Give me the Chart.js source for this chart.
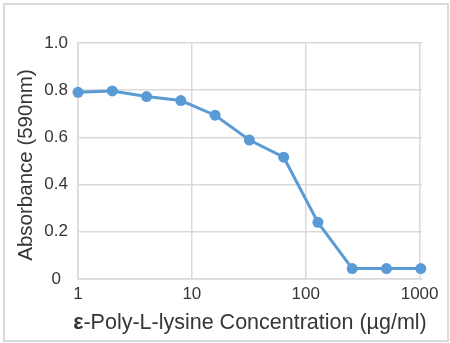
<!DOCTYPE html>
<html>
<head>
<meta charset="utf-8">
<script src="https://cdn.jsdelivr.net/npm/chart.js@4"></script>
<style>
  html, body { margin: 0; padding: 0; background: #ffffff; }
  #wrap { position: relative; width: 450px; height: 343px; }
  #frame {
    position: absolute; left: 3px; top: 3px; width: 442px; height: 335px;
    border: 2px solid #dadada; pointer-events: none;
  }
  canvas { position: absolute; left: 0; top: 0; }
</style>
</head>
<body>
<div id="wrap">
  <canvas id="chart" width="450" height="343"></canvas>
  <div id="frame"></div>
</div>
<script>
// Concentration series (µg/ml), doubling dilutions
const concentrations = [1, 2, 4, 8, 16, 32, 64, 128, 256, 512, 1024];
// Absorbance at 590 nm
const absorbance = [0.791, 0.797, 0.773, 0.756, 0.694, 0.589, 0.516, 0.240, 0.044, 0.044, 0.044];
// Axis tick labels
const xTickValues = [1, 10, 100, 1000];
const yTickValues = [0, 0.2, 0.4, 0.6, 0.8, 1.0];
const yTickLabels = ['0', '0.2', '0.4', '0.6', '0.8', '1.0'];
// Axis titles
const xTitlePrefix = 'ε';
const xTitleRest = '-Poly-L-lysine Concentration (µg/ml)';
const yTitle = 'Absorbance (590nm)';

const FONT = '"Liberation Sans", Arial, sans-serif';
const TEXT = '#363636';
const GRID = '#d9d9d9';
const BLUE = '#5b9bd5';

// Draws the two axis titles (the x title has a bold epsilon)
const axisTitles = {
  id: 'axisTitles',
  afterDraw(chart) {
    const ctx = chart.ctx;
    const area = chart.chartArea;
    ctx.save();
    ctx.fillStyle = TEXT;
    ctx.textBaseline = 'alphabetic';
    ctx.textAlign = 'left';
    const boldFont = 'bold 21.5px ' + FONT;
    const normFont = '21.5px ' + FONT;
    ctx.font = boldFont;
    const w1 = ctx.measureText(xTitlePrefix).width;
    ctx.font = normFont;
    const w2 = ctx.measureText(xTitleRest).width;
    const cx = (area.left + area.right) / 2;
    const x0 = cx - (w1 + w2) / 2;
    const base = 329;
    ctx.font = boldFont;
    ctx.fillText(xTitlePrefix, x0, base);
    ctx.font = normFont;
    ctx.fillText(xTitleRest, x0 + w1, base);

    ctx.translate(26, 165);
    ctx.rotate(-Math.PI / 2);
    ctx.textAlign = 'center';
    ctx.textBaseline = 'middle';
    ctx.font = '20.5px ' + FONT;
    ctx.fillText(yTitle, 0, 0);
    ctx.restore();
  }
};

new Chart(document.getElementById('chart'), {
  type: 'line',
  data: {
    datasets: [{
      data: concentrations.map((c, i) => ({ x: c, y: absorbance[i] })),
      borderColor: BLUE,
      backgroundColor: BLUE,
      borderWidth: 3,
      pointRadius: 5.5,
      pointBackgroundColor: BLUE,
      pointBorderColor: BLUE,
      pointBorderWidth: 0,
      tension: 0,
      clip: false
    }]
  },
  options: {
    responsive: false,
    animation: false,
    layout: { padding: { top: 43, right: 28, left: 0, bottom: 0 } },
    plugins: { legend: { display: false }, tooltip: { enabled: false } },
    scales: {
      x: {
        type: 'logarithmic',
        min: 1,
        max: 1050,
        afterBuildTicks(scale) {
          scale.ticks = xTickValues.map(v => ({ value: v }));
        },
        afterFit(scale) { scale.height = 64; },
        ticks: {
          color: TEXT,
          font: { family: FONT, size: 17 },
          padding: 5,
          maxRotation: 0,
          autoSkip: false,
          callback: (v) => String(v)
        },
        grid: { color: GRID, lineWidth: 1.5, drawTicks: false },
        border: { color: GRID, width: 1.5 }
      },
      y: {
        min: 0,
        max: 1,
        afterBuildTicks(scale) {
          scale.ticks = yTickValues.map(v => ({ value: v }));
        },
        afterFit(scale) { scale.width = 78; },
        ticks: {
          color: TEXT,
          font: { family: FONT, size: 17 },
          padding: 10,
          crossAlign: 'center',
          callback: (v) => yTickLabels[yTickValues.indexOf(v)] ?? ''
        },
        grid: { color: GRID, lineWidth: 1.5, drawTicks: false },
        border: { color: GRID, width: 1.5 }
      }
    }
  },
  plugins: [axisTitles]
});
</script>
</body>
</html>
